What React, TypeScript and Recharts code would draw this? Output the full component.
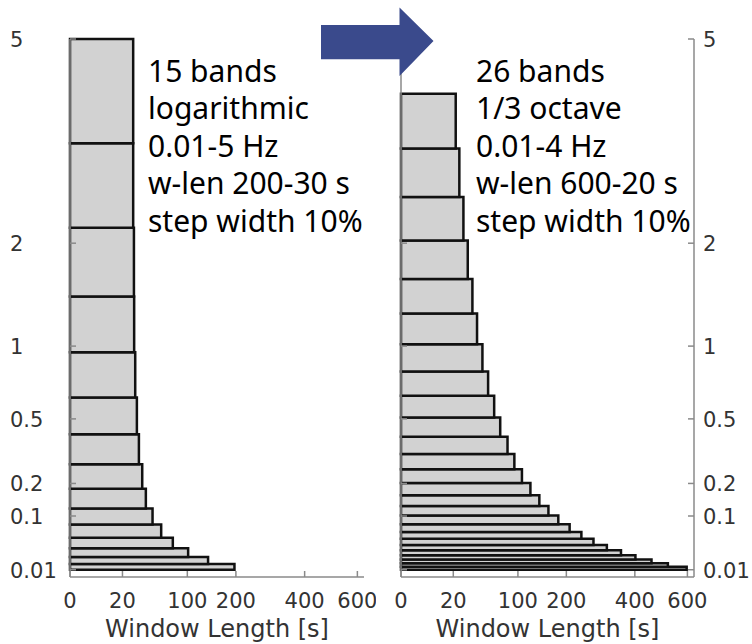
import { ComposedChart, XAxis, YAxis, ReferenceArea } from 'recharts';

// band edges in Hz (bottom to top)
const logEdges = [0.01, 0.0151, 0.0229, 0.0347, 0.0524, 0.0793, 0.12, 0.1816, 0.275, 0.416, 0.629, 0.952, 1.44, 2.18, 3.3, 5.0];
// window length per band in s (bottom to top)
const logWinLen = [196.5, 138.5, 101.4, 76.8, 60.4, 49.5, 41.8, 37.9, 34.5, 32.5, 30.9, 29.9, 29.7, 29.0, 29.0];

const octEdges = [0.01, 0.0126, 0.0159, 0.02, 0.0252, 0.0317, 0.04, 0.0504, 0.0635, 0.08, 0.101, 0.127, 0.16, 0.202, 0.254, 0.32, 0.403, 0.508, 0.64, 0.806, 1.016, 1.28, 1.613, 2.032, 2.56, 3.225, 4.064];
const octWinLen = [597, 521, 459, 402, 354, 310, 271, 238, 208, 181, 159, 140, 122.5, 107, 94, 83, 72, 63.5, 55.5, 48.5, 42.3, 37.3, 32.6, 28.5, 24.9, 21.9];

const xTicks = [0, 20, 100, 200, 400, 600];
const yTicks = [0.01, 0.1, 0.2, 0.5, 1, 2, 5];

const leftNotes = ['15 bands', 'logarithmic', '0.01-5 Hz', 'w-len 200-30 s', 'step width 10%'];
const rightNotes = ['26 bands', '1/3 octave', '0.01-4 Hz', 'w-len 600-20 s', 'step width 10%'];

const FRAME = '#8a8a8a';
const TICK_TXT = '#333';
const FONT = '"Noto Sans", "Open Sans", sans-serif';
const AXFONT = '"DejaVu Sans", sans-serif';

// inward tick mark, optional label
function tickFactory(kind: 'bottom' | 'top' | 'left' | 'right', label: 'none' | 'below' | 'farLeft' | 'right') {
  return (props: any) => {
    const { x, y, payload } = props;
    let line = null;
    if (kind === 'bottom') line = <line x1={x} y1={y} x2={x} y2={y - 6} stroke={FRAME} strokeWidth={1.5} />;
    if (kind === 'top') line = <line x1={x} y1={y} x2={x} y2={y + 6} stroke={FRAME} strokeWidth={1.5} />;
    if (kind === 'left') line = <line x1={x} y1={y} x2={x + 6} y2={y} stroke={FRAME} strokeWidth={1.5} />;
    if (kind === 'right') line = <line x1={x} y1={y} x2={x - 6} y2={y} stroke={FRAME} strokeWidth={1.5} />;
    let txt = null;
    if (label === 'below')
      txt = <text x={x} y={y + 31} textAnchor="middle" fontSize={21} fill={TICK_TXT} fontFamily={AXFONT}>{payload.value}</text>;
    if (label === 'farLeft')
      txt = <text x={10} y={y + 8} textAnchor="start" fontSize={21} fill={TICK_TXT} fontFamily={AXFONT}>{payload.value}</text>;
    if (label === 'right')
      txt = <text x={x + 9} y={y + 8} textAnchor="start" fontSize={21} fill={TICK_TXT} fontFamily={AXFONT}>{payload.value}</text>;
    return (
      <g>
        {line}
        {txt}
      </g>
    );
  };
}

interface PanelProps {
  edges: number[];
  winLen: number[];
  labelsRight?: boolean;
}

function Panel({ edges, winLen, labelsRight }: PanelProps) {
  const bands = winLen.map((w, i) => ({ lo: edges[i], hi: edges[i + 1], w }));
  return (
    <ComposedChart width={376} height={644} data={bands} margin={{ top: 39, right: labelsRight ? 0 : 12, bottom: 0, left: 0 }}>
      <XAxis
        type="number"
        dataKey="w"
        scale="sqrt"
        domain={[0, 628]}
        allowDataOverflow
        ticks={xTicks}
        interval={0}
        height={67}
        tickSize={0}
        tickMargin={0}
        axisLine={{ stroke: FRAME, strokeWidth: 1.5 }}
        tick={tickFactory('bottom', 'below')}
        label={{ value: 'Window Length [s]', position: 'insideBottom', offset: 7, fontSize: 24, fill: TICK_TXT, fontFamily: AXFONT }}
      />
      <XAxis
        xAxisId="t"
        orientation="top"
        type="number"
        scale="sqrt"
        domain={[0, 628]}
        allowDataOverflow
        ticks={xTicks}
        interval={0}
        height={0}
        tickSize={0}
        tickMargin={0}
        axisLine={{ stroke: FRAME, strokeWidth: 1.5 }}
        tick={tickFactory('top', 'none')}
      />
      <YAxis
        orientation={labelsRight ? 'right' : 'left'}
        type="number"
        dataKey="hi"
        scale="sqrt"
        domain={[0.005, 5]}
        allowDataOverflow
        ticks={yTicks}
        interval={0}
        width={labelsRight ? 58 : 70}
        tickSize={0}
        tickMargin={0}
        axisLine={{ stroke: FRAME, strokeWidth: 1.5 }}
        tick={labelsRight ? tickFactory('right', 'right') : tickFactory('left', 'farLeft')}
      />
      <YAxis
        yAxisId="m"
        orientation={labelsRight ? 'left' : 'right'}
        type="number"
        scale="sqrt"
        domain={[0.005, 5]}
        allowDataOverflow
        ticks={yTicks}
        interval={0}
        width={labelsRight ? 25 : 0}
        tickSize={0}
        tickMargin={0}
        axisLine={{ stroke: FRAME, strokeWidth: 1.5 }}
        tick={labelsRight ? tickFactory('left', 'none') : tickFactory('right', 'none')}
      />
      {bands.map((b, i) => (
        <ReferenceArea
          key={i}
          x1={0}
          x2={b.w}
          y1={b.lo}
          y2={b.hi}
          fill="#d2d2d2"
          fillOpacity={1}
          stroke="#111"
          strokeWidth={2.5}
          ifOverflow="visible"
        />
      ))}
    </ComposedChart>
  );
}

function Notes({ lines, x }: { lines: string[]; x: number }) {
  return (
    <>
      {lines.map((t, i) => (
        <text key={t} x={x} y={81.5 + i * 37.6} fontSize={30} fill="#000" fontFamily={FONT}>
          {t}
        </text>
      ))}
    </>
  );
}

export default function App() {
  return (
    <div style={{ position: 'absolute', left: 0, top: 0, width: 752, height: 644, background: '#fff', overflow: 'hidden' }}>
      <div style={{ position: 'absolute', left: 0, top: 0 }}>
        <Panel edges={logEdges} winLen={logWinLen} />
      </div>
      <div style={{ position: 'absolute', left: 376, top: 0 }}>
        <Panel edges={octEdges} winLen={octWinLen} labelsRight />
      </div>
      <svg width={752} height={644} style={{ position: 'absolute', left: 0, top: 0, pointerEvents: 'none' }}>
        <Notes lines={leftNotes} x={148} />
        <Notes lines={rightNotes} x={476} />
        <polygon points="321,25 399.5,25 399.5,7.5 433.5,41 399.5,76 399.5,59.3 321,59.3" fill="#3a4a8c" />
      </svg>
    </div>
  );
}
